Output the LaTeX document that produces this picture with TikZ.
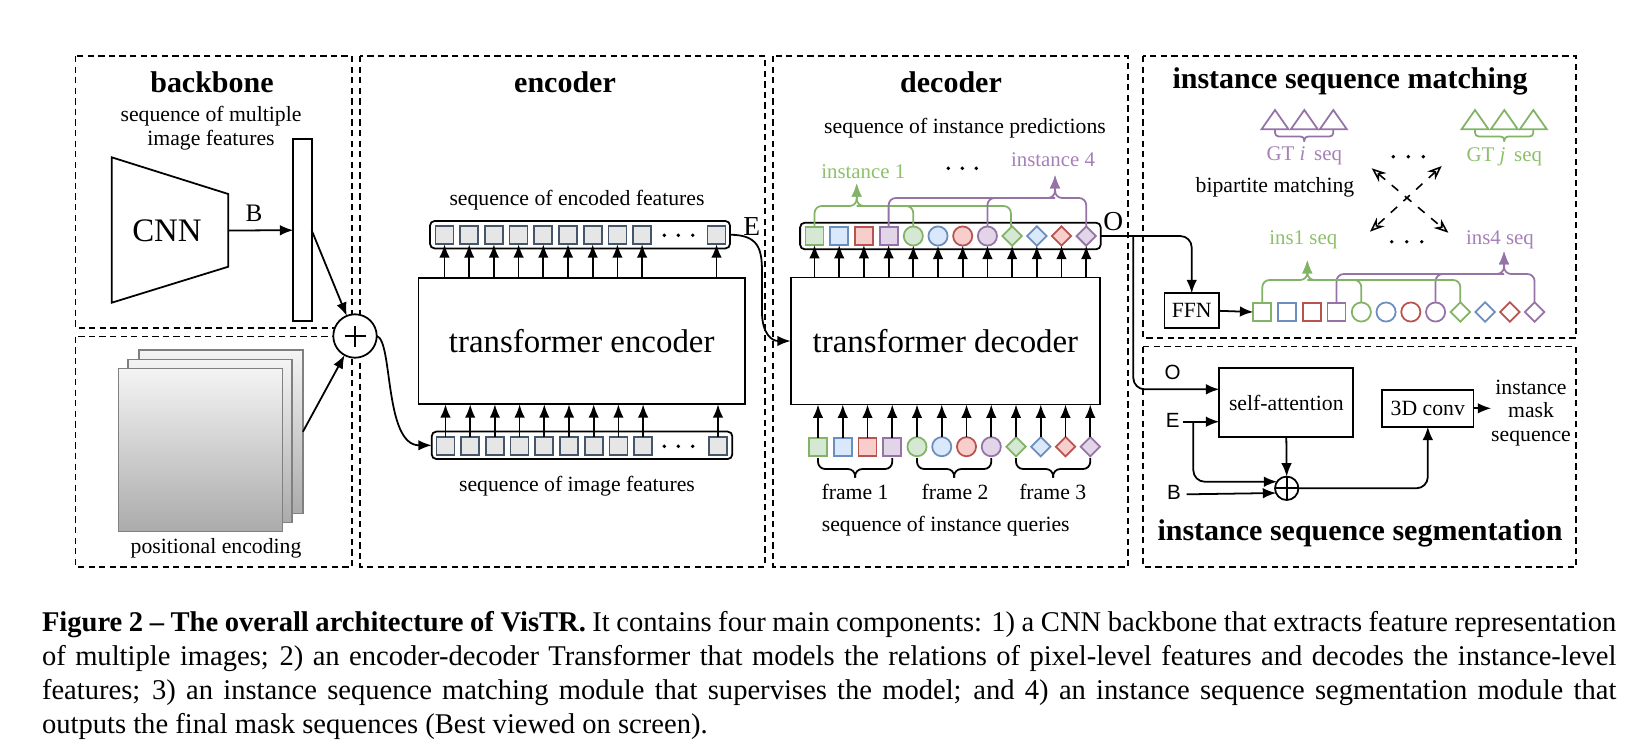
\documentclass[tikz,border=0pt]{standalone}
\usepackage{fontspec}
\setmainfont{Liberation Serif}
\newfontfamily\sansf{Liberation Sans}
\usetikzlibrary{arrows.meta,shapes.geometric,calc}
\definecolor{lineg}{HTML}{82B366}\definecolor{fillg}{HTML}{D5E8D4}
\definecolor{lineb}{HTML}{6C8EBF}\definecolor{fillb}{HTML}{DAE8FC}
\definecolor{liner}{HTML}{B85450}\definecolor{fillr}{HTML}{F8CECC}
\definecolor{linep}{HTML}{9673A6}\definecolor{fillp}{HTML}{E1D5E7}
\definecolor{textg}{HTML}{8DC06A}\definecolor{textp}{HTML}{A680B8}
\definecolor{featfill}{HTML}{E6E6E6}\definecolor{featline}{HTML}{45566A}
\definecolor{pegray}{HTML}{808080}\definecolor{pelight}{HTML}{F4F4F4}\definecolor{pedark}{HTML}{ABABAB}
\newcommand{\lblfont}{\fontsize{7.6}{8.3}\selectfont}
\newcommand{\colfont}{\fontsize{7.3}{8}\selectfont}
\newcommand{\bracketpath}[7]{%
  \draw[#1] (#2,#5) -- (#2,#6) -- (#4,#6) -- (#4,#7);
  \draw[#1] (#3,#5) -- (#3,#6) -- (#4,#6) -- (#4,#7);}
\begin{document}
\begin{tikzpicture}[x=0.35pt,y=-0.35pt,line width=0.62pt,
  every node/.style={inner sep=0pt,outer sep=0pt},
  region/.style={draw,line width=0.5pt,dash pattern=on 2.2pt off 1.5pt},
  lbl/.style={font=\lblfont,align=center},
  hdr/.style={font=\fontsize{10.5}{12}\selectfont\bfseries},
  big/.style={font=\fontsize{11.5}{13}\selectfont},
  blk/.style={draw,line width=0.62pt},
  arr/.style={-{Latex[length=4.7pt,width=3.7pt]}},
  darr/.style={dashed,line width=0.55pt,{Stealth[open,length=5pt,width=4pt]}-{Stealth[open,length=5pt,width=4pt]}},
  feat/.style={draw=featline,fill=featfill,minimum size=6.3pt},
  seqbox/.style={draw,rounded corners=1.6pt},
  sqs/.style={draw,minimum size=6.3pt},
  cis/.style={draw,circle,minimum size=6.7pt},
  dis/.style={draw,diamond,minimum width=6.8pt,minimum height=6.8pt},
  pe/.style={draw=pegray,line width=0.5pt,top color=pelight,bottom color=pedark,minimum width=57.4pt,minimum height=57.2pt},
  brk/.style={rounded corners=2.5pt},
  brks/.style={rounded corners=1.3pt},
  sans/.style={font=\sansf\fontsize{7.2}{8}\selectfont},
]
\useasboundingbox (0,0) rectangle (1633,747);

% ---------- regions ----------
\draw[region] (75.7,56) rectangle (352,328);
\draw[region] (75.7,336.7) rectangle (352,567);
\draw[region] (360,56) rectangle (765,567);
\draw[region] (773,56) rectangle (1128,567);
\draw[region] (1143,56) rectangle (1576,338);
\draw[region] (1143,346.7) rectangle (1576,567);

% ---------- backbone ----------
\node[hdr] (bbt) at (212,82) {backbone};
\node[lbl] (smif) at (211,128) {sequence of multiple\\image features};
\draw[blk] (111.7,157.3) -- (228.3,194) -- (228.3,266.7) -- (111.7,302.7) -- cycle;
\node[big] (cnn) at (167,231) {CNN};
\coordinate (cnnR) at (228.3,230.5);
\node[blk,minimum width=6.4pt,minimum height=63.6pt] (fmap) at (302.5,230.2) {};
\node[font=\fontsize{8.8}{9}\selectfont] (blbl) at (254,213) {B};
\draw[arr] (cnnR) -- (fmap.west);

% positional encoding
\node[pe] (pe3) at (220.9,431.7) {};
\node[pe] (pe2) at (210,441) {};
\node[pe] (pe1) at (200.5,450) {};
\node[lbl] (pelbl) at (216,548) {positional encoding};

\node[draw,circle,fill=white,minimum size=15.2pt] (plus) at (355,336) {};
\draw ($(plus)+(-10.5,0)$) -- ($(plus)+(10.5,0)$);
\draw ($(plus)+(0,-10.5)$) -- ($(plus)+(0,10.5)$);
\draw[arr] (fmap.east) -- (plus);
\draw[arr] (pe3.east) -- (plus);

% ---------- encoder ----------
\node[hdr] (enct) at (565,82) {encoder};
\node[lbl] (seqenc) at (577,200) {sequence of encoded features};
\node[seqbox,minimum width=105pt,minimum height=9.6pt] (outseq) at (580,234.7) {};
\node[seqbox,minimum width=105.2pt,minimum height=9.6pt] (inseq) at (582,445.3) {};
\node[blk,big,minimum width=114.3pt,minimum height=44.3pt] (enc) at (581.7,341) {transformer encoder};
\node[lbl] (seqimg) at (577,486) {sequence of image features};
\foreach \k in {0,...,8} {
  \node[feat] (eo\k) at ({444.5+24.7*\k},235.3) {};
  \node[feat] (ei\k) at ({445.5+24.7*\k},446.3) {};
}
\node[feat] (eo9) at (716.5,235.3) {};
\node[feat] (ei9) at (718,446.3) {};
\foreach \x in {664.3,678.3,692.7} {
  \fill (\x,235.3) circle[radius=1.9];
  \fill (\x,446.3) circle[radius=1.9];
}
\foreach \k in {0,...,9} {
  \draw[arr] (enc.north -| eo\k) -- (eo\k.south);
  \draw[arr] (ei\k.north) -- (enc.south -| ei\k);
}
\draw[arr] (plus.east) .. controls (393,340) and (384,445.3) .. (inseq.west);
\node[font=\fontsize{9.6}{10}\selectfont] (elbl) at (751.7,226.5) {E};

% ---------- decoder ----------
\node[hdr] (dect) at (951,82) {decoder};
\node[lbl] (seqpred) at (965,128) {sequence of instance predictions};
\node[font=\colfont,text=textg] (inst1) at (863.3,171.7) {instance 1};
\node[font=\colfont,text=textp] (inst4) at (1053,160) {instance 4};
\foreach \x in {948.3,962.3,976.3} \fill (\x,168.3) circle[radius=1.9];
\node[seqbox,minimum width=105.2pt,minimum height=9.3pt] (predseq) at (950.4,236) {};
\node[blk,big,minimum width=108.3pt,minimum height=44.45pt] (dec) at (945.4,341) {transformer decoder};
\foreach \c/\k in {g/0,b/1,r/2,p/3} {
  \node[sqs,draw=line\c,fill=fill\c] (pr\k) at ({814.5+24.7*\k},236) {};
  \node[sqs,draw=line\c,fill=fill\c] (q\k) at ({818+24.75*\k},446.7) {};
}
\foreach \c/\k in {g/4,b/5,r/6,p/7} {
  \node[cis,draw=line\c,fill=fill\c] (pr\k) at ({814.5+24.7*\k},236) {};
  \node[cis,draw=line\c,fill=fill\c] (q\k) at ({818+24.75*\k},446.7) {};
}
\foreach \c/\k in {g/8,b/9,r/10,p/11} {
  \node[dis,draw=line\c,fill=fill\c] (pr\k) at ({814.5+24.7*\k},236) {};
  \node[dis,draw=line\c,fill=fill\c] (q\k) at ({818+24.75*\k},446.7) {};
}
\foreach \k in {0,...,11} {
  \draw[arr] (dec.north -| pr\k) -- (pr\k.south);
  \draw[arr] (q\k.north) -- (dec.south -| q\k);
}
% prediction brackets
\bracketpath{arr,brk,draw=lineg}{814.5}{1010.9}{856.7}{226.7}{206}{183.3}
\draw[brk,draw=lineg] (913.3,226.7) -- (913.3,206) -- (856.7,206);
\bracketpath{arr,brk,draw=linep}{888.6}{1086.2}{1055}{226.7}{198}{175}
\draw[brk,draw=linep] (987.4,226.7) -- (987.4,198) -- (1055,198);
% query braces
\bracketpath{brk}{818}{892.25}{855.1}{458}{469}{477.5}
\bracketpath{brk}{917}{991.25}{954.1}{458}{469}{477.5}
\bracketpath{brk}{1016}{1090.25}{1053.1}{458}{469}{477.5}
\node[lbl] (fr1) at (855,491.7) {frame 1};
\node[lbl] (fr2) at (955,491.7) {frame 2};
\node[lbl] (fr3) at (1052.7,491.7) {frame 3};
\node[lbl] (seqq) at (945.7,526.5) {sequence of instance queries};
% E connection
\draw[arr] (outseq.east) .. controls (758,235) and (762,248) .. (762,272) -- (762,312) .. controls (762,334) and (772,341) .. (dec.west);
\node[font=\fontsize{9.6}{10}\selectfont] (olbl) at (1113.3,221.7) {O};

% ---------- instance sequence matching ----------
\node[hdr] (mt) at (1350,81.7) {instance sequence matching};
\foreach \x in {1275,1304.3,1333.3}
  \draw[draw=linep] (\x-13.5,129.3) -- (\x,110) -- (\x+13.5,129.3) -- cycle;
\foreach \x in {1475,1504.3,1533.3}
  \draw[draw=lineg] (\x-13.5,129.3) -- (\x,110) -- (\x+13.5,129.3) -- cycle;
\bracketpath{brks,draw=linep}{1275}{1333.3}{1304.3}{129.3}{136.5}{141.5}
\bracketpath{brks,draw=lineg}{1475}{1533.3}{1504.3}{129.3}{136.5}{141.5}
\node[font=\colfont,text=textp] (gti) at (1304.3,156) {GT \textit{i}\, seq};
\node[font=\colfont,text=textg] (gtj) at (1504.3,156.5) {GT \textit{j}\, seq};
\foreach \x in {1393.3,1408.3,1423.3} \fill (\x,156.7) circle[radius=1.9];
\foreach \x in {1391.7,1406.7,1421.7} \fill (\x,241.7) circle[radius=1.9];
\node[lbl] (bip) at (1275,187.3) {bipartite matching};
\coordinate (d1a) at (1371.7,168.3); \coordinate (d1b) at (1448.3,232.7);
\coordinate (d2a) at (1441.7,166); \coordinate (d2b) at (1370,231.7);
\draw[darr] (d1a) -- (d1b);
\draw[darr] (d2a) -- (d2b);
\node[font=\colfont,text=textg] (ins1) at (1303.3,240) {ins1 seq};
\node[font=\colfont,text=textp] (ins4) at (1500,240) {ins4 seq};
\node[blk,font=\lblfont,minimum width=19.1pt,minimum height=12.25pt] (ffn) at (1191.7,310.8) {FFN};
\foreach \c/\k in {g/0,b/1,r/2,p/3}
  \node[sqs,draw=line\c,fill=white] (m\k) at ({1262.3+24.75*\k},312) {};
\foreach \c/\k in {g/4,b/5,r/6,p/7}
  \node[cis,draw=line\c,fill=white] (m\k) at ({1262.3+24.75*\k},312) {};
\foreach \c/\k in {g/8,b/9,r/10,p/11}
  \node[dis,draw=line\c,fill=white] (m\k) at ({1262.3+24.75*\k},312) {};
\draw[arr] (ffn.east) -- (m0.west);
\bracketpath{arr,brk,draw=linep}{1336.55}{1534.55}{1504}{303}{274}{251}
\draw[brk,draw=linep] (1435.55,303) -- (1435.55,274) -- (1504,274);
\bracketpath{arr,brk,draw=lineg}{1262.3}{1460.3}{1307.3}{303}{280}{260}
\draw[brk,draw=lineg] (1361.3,303) -- (1361.3,280) -- (1307.3,280);
\draw[arr,rounded corners=4pt] (predseq.east) -| (ffn.north);

% ---------- instance sequence segmentation ----------
\node[hdr] (st) at (1360,533.3) {instance sequence segmentation};
\node[blk,font=\lblfont,minimum width=46.9pt,minimum height=24.15pt] (sa) at (1286.3,402.8) {self-attention};
\node[blk,font=\lblfont,minimum width=31.9pt,minimum height=12.85pt] (conv) at (1427.8,408.3) {3D conv};
\node[lbl] (mask) at (1531,413) {instance\\mask\\sequence};
\node[draw,circle,fill=white,minimum size=8.2pt] (plus2) at (1286.7,488.3) {};
\draw ($(plus2)+(-11.7,0)$) -- ($(plus2)+(11.7,0)$);
\draw ($(plus2)+(0,-11.7)$) -- ($(plus2)+(0,11.7)$);
\node[sans] (osl) at (1172.7,372.7) {O};
\node[sans] (esl) at (1172.7,420) {E};
\node[sans] (bsl) at (1174,492.7) {B};
\coordinate (obr) at (1133.3,236);
\draw[arr,rounded corners=4pt] (obr) |- ($(sa.west)+(0,-13.5)$);
\coordinate (ein) at (1183.3,421.7);
\draw[arr] (ein) -- (ein -| sa.west);
\coordinate (ebr) at (1193.3,421.7);
\draw[arr,rounded corners=4pt] (ebr) |- (1277.2,481.7);
\coordinate (bin) at (1186.7,494.3);
\draw[arr] (bin) -- (1276.2,493);
\draw[arr] (sa.south) -- (plus2.north);
\draw[arr,rounded corners=4pt] (plus2.east) -| (conv.south);
\draw[arr] (conv.east) -- (conv.east -| mask.west);

% ---------- caption ----------
\node[anchor=north west,text width=551pt,align=justify,font=\fontsize{10}{12}\selectfont] (cap) at (42,611) {\textbf{Figure 2 -- The overall architecture of VisTR.} It contains four main components: 1) a CNN backbone that extracts feature representation\linebreak of multiple images; 2) an encoder-decoder Transformer that models the relations of pixel-level features and decodes the instance-level\linebreak features; 3) an instance sequence matching module that supervises the model; and 4) an instance sequence segmentation module that\linebreak outputs the final mask sequences (Best viewed on screen).};
\end{tikzpicture}
\end{document}
